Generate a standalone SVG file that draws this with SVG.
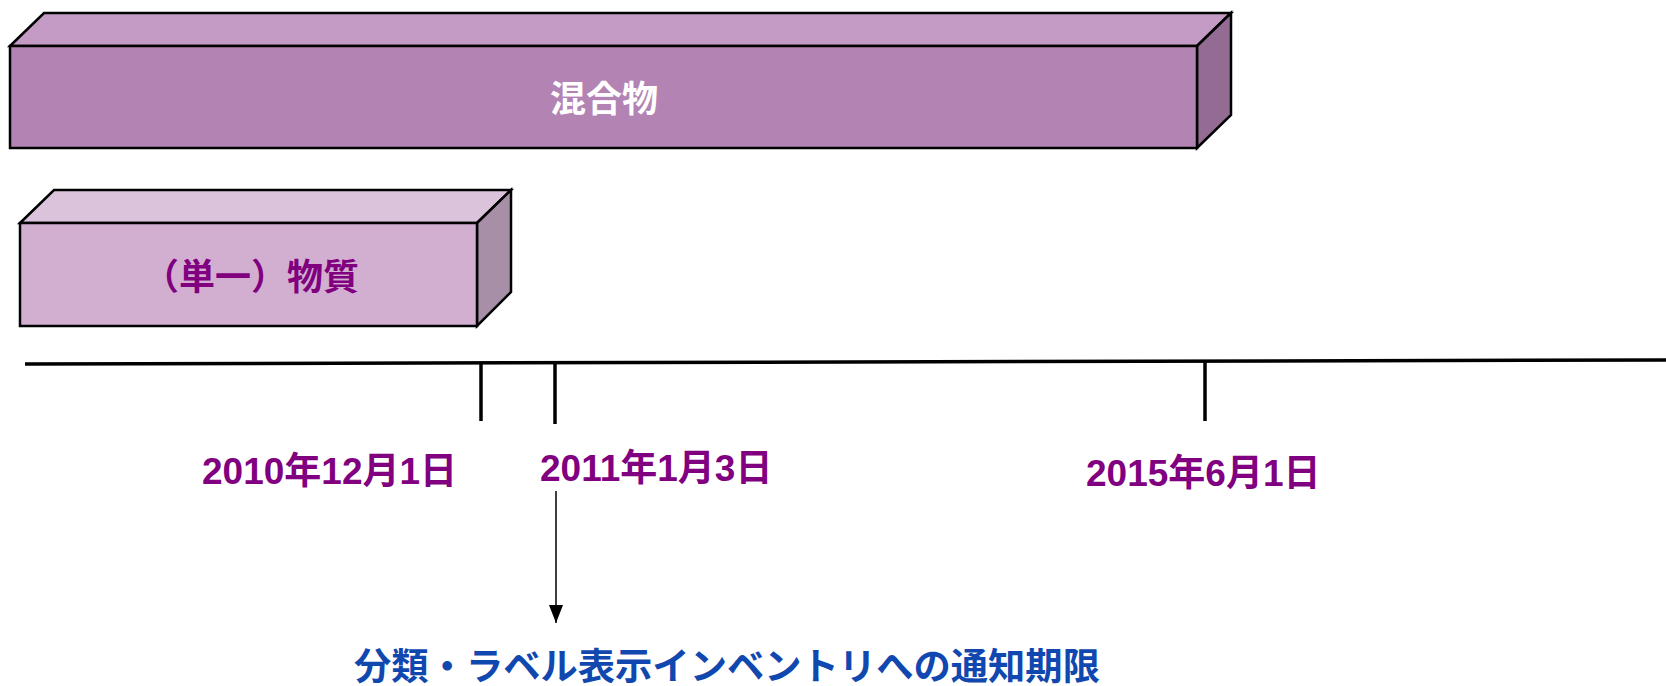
<svg xmlns="http://www.w3.org/2000/svg" width="1666" height="686" viewBox="0 0 1666 686">
<style>
.edge{stroke:#000;stroke-width:2.5;stroke-linejoin:miter}
.date{font-family:"Liberation Sans","Noto Sans CJK JP",sans-serif;font-weight:bold;font-size:37px;fill:#800080}
.big{font-family:"Liberation Sans","Noto Sans CJK JP",sans-serif;font-weight:bold;font-size:36px}
.tick{stroke:#000;stroke-width:3.5}
</style>
<defs>
<marker id="ah" markerWidth="18" markerHeight="14" refX="18" refY="7" orient="auto" markerUnits="userSpaceOnUse" viewBox="0 0 18 14">
<path d="M0,0 L18,7 L0,14 Z" fill="#000"/>
</marker>
</defs>
<g id="mixture">
<polygon class="edge" points="10,46 44,13 1231,13 1197,46" fill="#C49BC5"/>
<polygon class="edge" points="1197,46 1231,13 1231,115 1197,148" fill="#936B93"/>
<rect class="edge" x="10" y="46" width="1187" height="102" fill="#B383B3"/>
<text class="big" x="604" y="112" text-anchor="middle" fill="#FFFFFF">混合物</text>
</g>
<g id="substance">
<polygon class="edge" points="20,223 54,190 511,190 477,223" fill="#DBC3DB"/>
<polygon class="edge" points="477,223 511,190 511,292 477,326" fill="#A88FA8"/>
<rect class="edge" x="20" y="223" width="457" height="103" fill="#D2AFD0"/>
<text class="big" x="251" y="290" text-anchor="middle" fill="#800080">（単一）物質</text>
</g>
<g id="timeline">
<line x1="25" y1="364" x2="1666" y2="360" stroke="#000" stroke-width="3.5"/>
<line class="tick" x1="481" y1="363" x2="481" y2="421"/>
<line class="tick" x1="555" y1="363" x2="555" y2="424"/>
<line class="tick" x1="1205" y1="361" x2="1205" y2="421"/>
</g>
<g id="date1"><text class="date" x="202" y="484">2010年12月1日</text></g>
<g id="date2"><text class="date" x="540" y="481">2011年1月3日</text></g>
<g id="date3"><text class="date" x="1086" y="486">2015年6月1日</text></g>
<g id="connectors">
<line x1="556" y1="491" x2="556" y2="623" stroke="#000" stroke-width="1.5" marker-end="url(#ah)"/>
</g>
<g id="deadline">
<text x="354" y="680" font-family="'Liberation Sans','Noto Sans CJK JP',sans-serif" font-weight="bold" font-size="37.3" fill="#1048B0">分類・ラベル表示インベントリへの通知期限</text>
</g>
</svg>
